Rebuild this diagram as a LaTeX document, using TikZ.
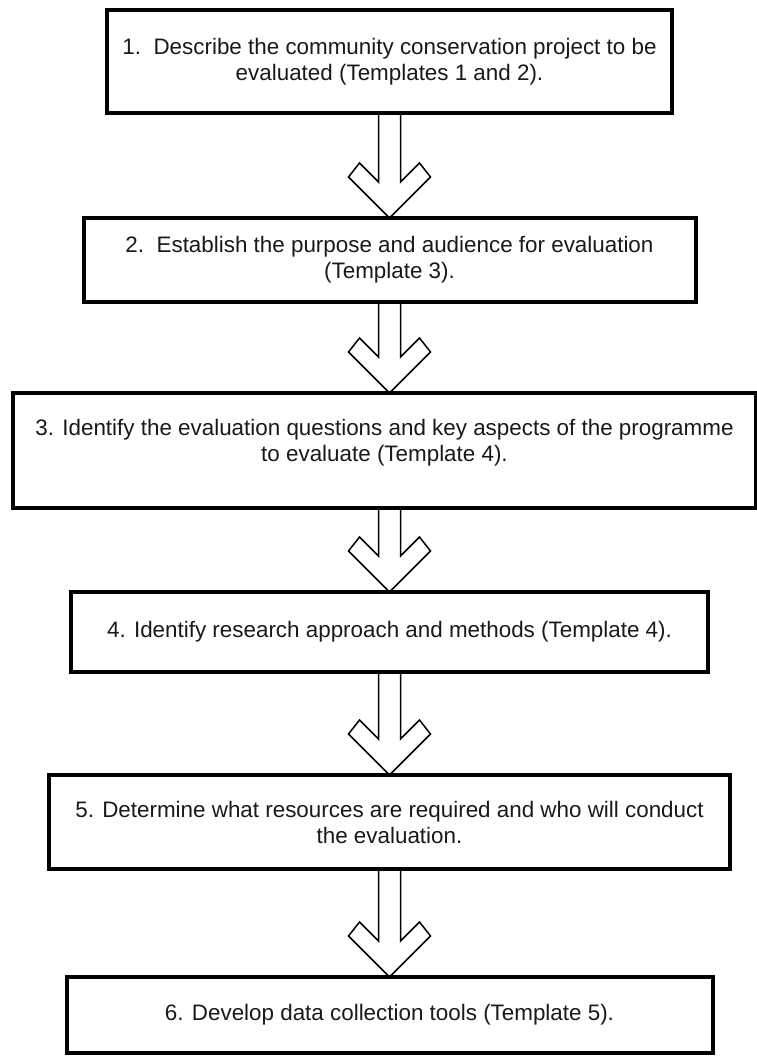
\documentclass[tikz,border=0pt]{standalone}
\usepackage{fontspec}
\setmainfont{Liberation Sans}
\usetikzlibrary{positioning, calc}

\begin{document}
\begin{tikzpicture}[
    x=1pt, y=-1pt,
    stepbox/.style={
        draw,
        rectangle,
        line width=4pt,
        outer sep=0pt,
        align=center,
        text=black!90,
        font=\fontsize{22.4}{26}\selectfont
    },
    hollowarrow/.style={
        draw,
        line width=1.5pt,
        line join=miter
    }
]
    \useasboundingbox (0,0) rectangle (757,1057);

    % Steps
    \node[stepbox, minimum width=565pt, minimum height=103pt] (b1) at (389.5,61.5)
        {1.\ \ Describe the community conservation project to be\\evaluated (Templates 1 and 2).};
    \node[stepbox, minimum width=612pt, minimum height=84pt, below=105pt of b1] (b2)
        {2.\ \ Establish the purpose and audience for evaluation\\(Template 3).};
    \node[stepbox, minimum width=743pt, minimum height=115pt, below=91pt of b2, xshift=-5pt] (b3)
        {3. Identify the evaluation questions and key aspects of the programme\\to evaluate (Template 4).\rule[-20pt]{0pt}{20pt}};
    \node[stepbox, minimum width=637pt, minimum height=80pt, below=84pt of b3, xshift=5pt] (b4)
        {4. Identify research approach and methods (Template 4).};
    \node[stepbox, minimum width=681pt, minimum height=94pt, below=103pt of b4] (b5)
        {5. Determine what resources are required and who will conduct\\the evaluation.};
    \node[stepbox, minimum width=646pt, minimum height=76pt, below=108pt of b5] (b6)
        {6. Develop data collection tools (Template 5).};

    % Hollow arrows between the steps
    \foreach \a/\b in {b1/b2, b2/b3, b3/b4, b4/b5, b5/b6} {
        \coordinate (top) at (b1.center |- \a.south);
        \coordinate (tip) at (b1.center |- \b.north);
        \draw[hollowarrow] ($(top)+(-11,0)$) -- ($(tip)+(-11,-36)$) -- ($(tip)+(-30,-55)$)
            -- ($(tip)+(-41,-41)$) -- (tip) -- ($(tip)+(41,-41)$) -- ($(tip)+(30,-55)$)
            -- ($(tip)+(11,-36)$) -- ($(top)+(11,0)$);
    }

\end{tikzpicture}
\end{document}
